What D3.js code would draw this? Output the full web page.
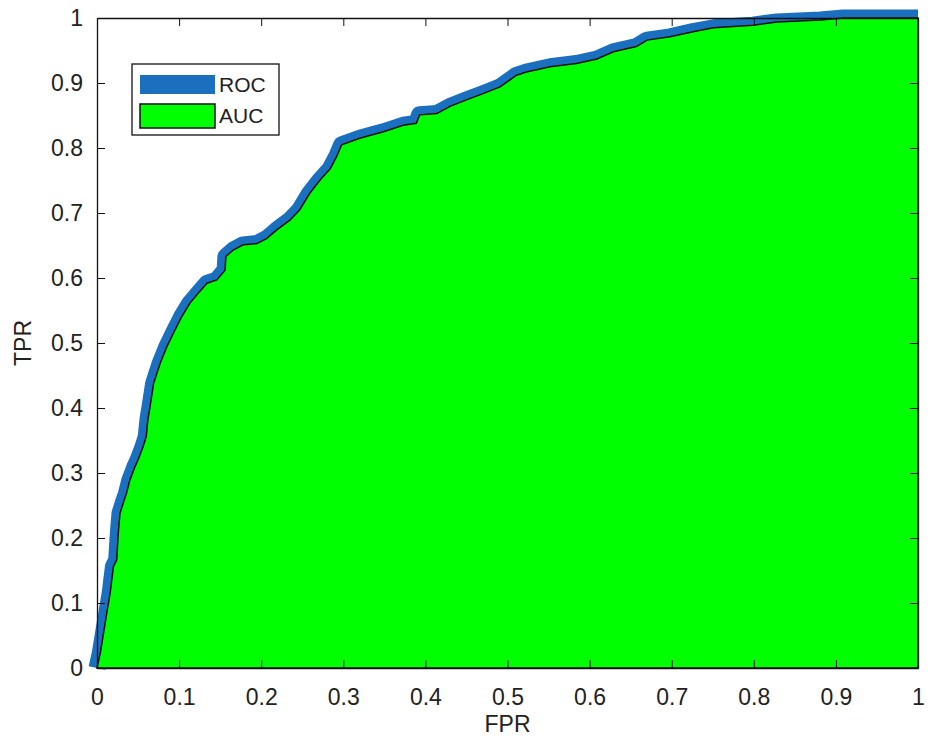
<!DOCTYPE html>
<html>
<head>
<meta charset="utf-8">
<script src="https://cdn.jsdelivr.net/npm/d3@7"></script>
<style>
  body { margin: 0; background: #fff; }
  text { font-family: "Liberation Sans", Arial, sans-serif; fill: #222; }
</style>
</head>
<body>
<div id="chart"></div>
<script>
// ROC curve points
const fpr = [0, 0.004, 0.008, 0.012, 0.016, 0.020, 0.024, 0.026, 0.028,
  0.032, 0.036, 0.040, 0.046, 0.050, 0.056, 0.060, 0.062, 0.065, 0.069,
  0.077, 0.085, 0.095, 0.103, 0.113, 0.123, 0.134, 0.146, 0.156, 0.157,
  0.166, 0.178, 0.195, 0.207, 0.219, 0.235, 0.247, 0.259, 0.272, 0.284,
  0.292, 0.298, 0.320, 0.349, 0.373, 0.389, 0.393, 0.414, 0.430, 0.450,
  0.471, 0.491, 0.511, 0.523, 0.552, 0.584, 0.609, 0.629, 0.657, 0.670,
  0.698, 0.726, 0.751, 0.799, 0.828, 0.881, 0.909, 1.0];
const tpr = [0, 0.023, 0.054, 0.085, 0.115, 0.156, 0.166, 0.208, 0.238,
  0.254, 0.269, 0.289, 0.309, 0.320, 0.340, 0.356, 0.382, 0.405, 0.438,
  0.469, 0.494, 0.520, 0.540, 0.561, 0.576, 0.592, 0.597, 0.612, 0.633,
  0.643, 0.651, 0.653, 0.661, 0.674, 0.689, 0.705, 0.730, 0.751, 0.768,
  0.787, 0.805, 0.815, 0.825, 0.835, 0.838, 0.851, 0.853, 0.864, 0.874,
  0.884, 0.894, 0.912, 0.917, 0.925, 0.930, 0.937, 0.948, 0.956, 0.966,
  0.971, 0.979, 0.985, 0.989, 0.994, 0.997, 1.0, 1.0];
const ticks = [0, 0.1, 0.2, 0.3, 0.4, 0.5, 0.6, 0.7, 0.8, 0.9, 1];
const tickLabels = ["0", "0.1", "0.2", "0.3", "0.4", "0.5", "0.6", "0.7", "0.8", "0.9", "1"];
const legendLabels = ["ROC", "AUC"];

const points = fpr.map((f, i) => ({ f: f, t: tpr[i] }));

const margin = { top: 18, right: 16, bottom: 77, left: 97 },
  width = 934 - margin.left - margin.right,
  height = 745 - margin.top - margin.bottom;

const x = d3.scaleLinear().domain([0, 1]).range([0, width]);
const y = d3.scaleLinear().domain([0, 1]).range([height, 0]);

const svg = d3
  .select("#chart")
  .append("svg")
  .attr("width", 934)
  .attr("height", 745)
  .append("g")
  .attr("transform", "translate(" + margin.left + "," + margin.top + ")");

const line = d3.line().x((d) => x(d.f)).y((d) => y(d.t));
const area = d3.area().x((d) => x(d.f)).y0(y(0)).y1((d) => y(d.t));

// thick ROC line first, the AUC area covers its lower half
svg
  .append("path")
  .datum(points)
  .attr("d", line)
  .attr("fill", "none")
  .attr("stroke", "#1b6fbf")
  .attr("stroke-width", 17)
  .attr("stroke-linejoin", "round");

svg
  .append("path")
  .datum(points)
  .attr("d", area)
  .attr("fill", "#00ff00")
  .attr("stroke", "#111")
  .attr("stroke-width", 1.5);

const fmt = (d) => tickLabels[ticks.indexOf(d)];

// axes, ticks pointing inward
svg
  .append("g")
  .attr("transform", "translate(0," + height + ")")
  .call(d3.axisBottom(x).tickValues(ticks).tickFormat(fmt).tickSizeInner(-8).tickSizeOuter(0).tickPadding(21));
svg
  .append("g")
  .call(d3.axisLeft(y).tickValues(ticks).tickFormat(fmt).tickSizeInner(-8).tickSizeOuter(0).tickPadding(14));
svg
  .append("g")
  .call(d3.axisTop(x).tickValues(ticks).tickFormat("").tickSizeInner(-8).tickSizeOuter(0));
svg
  .append("g")
  .attr("transform", "translate(" + width + ",0)")
  .call(d3.axisRight(y).tickValues(ticks).tickFormat("").tickSizeInner(-8).tickSizeOuter(0));

svg.selectAll(".domain").attr("stroke", "#111").attr("stroke-width", 1.3);
svg.selectAll(".tick line").attr("stroke", "#111");
svg.selectAll(".tick text").style("font-size", "23px").attr("fill", "#222");

// axis titles
svg
  .append("text")
  .attr("x", width / 2)
  .attr("y", height + 64)
  .attr("text-anchor", "middle")
  .style("font-size", "23px")
  .text("FPR");
svg
  .append("text")
  .attr("transform", "translate(" + (-66) + "," + height / 2 + ") rotate(-90)")
  .attr("text-anchor", "middle")
  .style("font-size", "23px")
  .text("TPR");

// legend
const legend = svg.append("g").attr("transform", "translate(35,46)");
legend
  .append("rect")
  .attr("width", 147)
  .attr("height", 71)
  .attr("fill", "#fff")
  .attr("stroke", "#111")
  .attr("stroke-width", 1.3);
legend
  .append("rect")
  .attr("x", 8)
  .attr("y", 11)
  .attr("width", 75)
  .attr("height", 19)
  .attr("fill", "#1b6fbf");
legend
  .append("rect")
  .attr("x", 8)
  .attr("y", 40)
  .attr("width", 75)
  .attr("height", 24)
  .attr("fill", "#00ff00")
  .attr("stroke", "#111")
  .attr("stroke-width", 1.5);
legend
  .selectAll(".legend-label")
  .data(legendLabels)
  .enter()
  .append("text")
  .attr("class", "legend-label")
  .attr("x", 87)
  .attr("y", (d, i) => 21 + i * 31)
  .attr("dy", "0.35em")
  .style("font-size", "21px")
  .text((d) => d);
</script>
</body>
</html>
